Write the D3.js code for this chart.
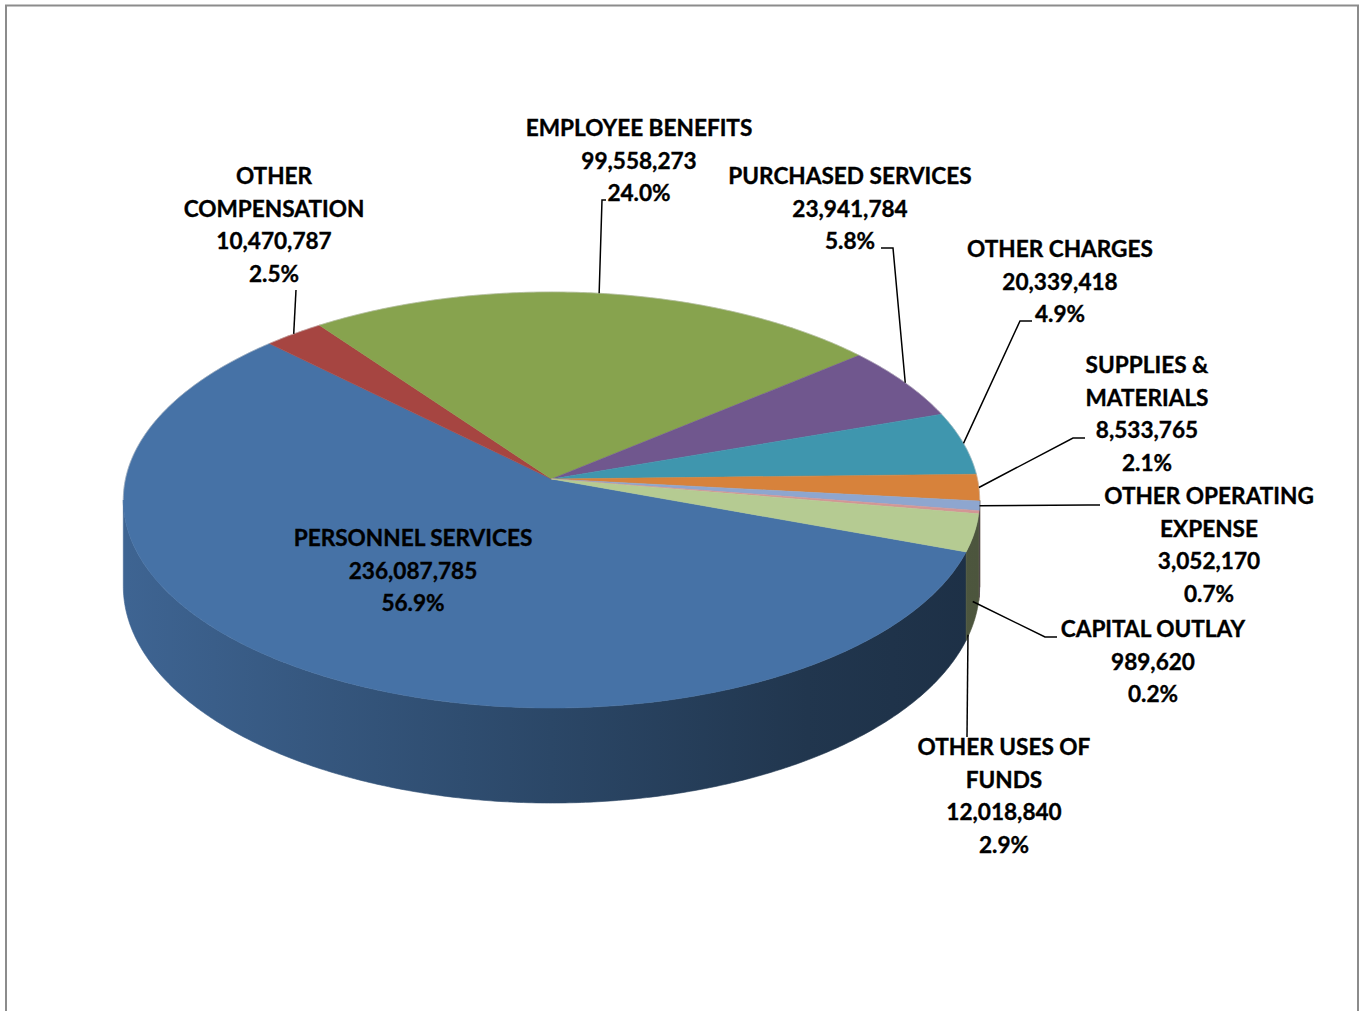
<!DOCTYPE html>
<html>
<head>
<meta charset="utf-8">
<script src="https://cdn.jsdelivr.net/npm/d3@7"></script>
<style>
  html, body { margin: 0; padding: 0; background: #ffffff; }
  svg { display: block; }
  text { font-family: Lato, "Open Sans", sans-serif; font-weight: 700; fill: #000; stroke: #000; stroke-width: 0.35px; }
</style>
</head>
<body>
<svg id="chart" width="1362" height="1011"></svg>
<script>
// Expenditure categories, in pie order (clockwise from the first slice)
const categories = [
  "PERSONNEL SERVICES",
  "OTHER COMPENSATION",
  "EMPLOYEE BENEFITS",
  "PURCHASED SERVICES",
  "OTHER CHARGES",
  "SUPPLIES & MATERIALS",
  "OTHER OPERATING EXPENSE",
  "CAPITAL OUTLAY",
  "OTHER USES OF FUNDS"
];

// Amounts per category
const amounts = [
  236087785,
  10470787,
  99558273,
  23941784,
  20339418,
  8533765,
  3052170,
  989620,
  12018840
];

// Label text lines (category name broken into lines)
const labelLines = [
  ["PERSONNEL SERVICES"],
  ["OTHER", "COMPENSATION"],
  ["EMPLOYEE BENEFITS"],
  ["PURCHASED SERVICES"],
  ["OTHER CHARGES"],
  ["SUPPLIES &", "MATERIALS"],
  ["OTHER OPERATING", "EXPENSE"],
  ["CAPITAL OUTLAY"],
  ["OTHER USES OF", "FUNDS"]
];

// Slice fill colours (top face)
const colors = [
  "#4672a6", "#a64541", "#87a34e", "#70578e", "#3f96ae",
  "#d7823b", "#8ea6cf", "#d39695", "#b5cb92"
];

// ---- layout ----
const cx = 551.5, cy = 479;     // projected centre of the disk
const sx = 426;                 // horizontal radius scale
const sz = 205.9;               // depth radius scale (tilt)
const persp = 0.101;            // perspective strength
const thick = 85.4;             // wall thickness
const firstAngle = 110;         // angle of first slice, degrees

// Label blocks: centre x, centre y of first line, leader path (anchor on pie
// given as angle in degrees and drop down the wall as a fraction, then elbows)
const lineGap = 32.6;
const labelLayout = [
  { x: 413,  y: 538, leader: null },
  { x: 274,  y: 176, leader: { a: null, drop: 0, pts: [[296, 290]] } },
  { x: 639,  y: 128, leader: { a: null, drop: 0, pts: [[602, 200], [606, 200]] } },
  { x: 850,  y: 176, leader: { a: null, drop: 0, pts: [[893, 248], [881, 248]] } },
  { x: 1060, y: 249, leader: { a: null, drop: 0, pts: [[1020, 321], [1032, 321]] } },
  { x: 1147, y: 365, leader: { a: null, drop: 0, pts: [[1073, 438], [1085, 438]] } },
  { x: 1209, y: 496, leader: { a: null, drop: 0, pts: [[1088, 505], [1100, 505]] } },
  { x: 1153, y: 629, leader: { a: 106, drop: 0.73, pts: [[1045, 637], [1057, 637]] } },
  { x: 1004, y: 747, leader: { a: 109, drop: 0.98, pts: [[967, 737]] } }
];

const svg = d3.select("#chart");
const defs = svg.append("defs");

// frame
svg.append("rect")
  .attr("x", 6).attr("y", 5.5)
  .attr("width", 1352).attr("height", 1100)
  .attr("fill", "#ffffff")
  .attr("stroke", "#8c8c8c")
  .attr("stroke-width", 2);

// project a point on the disk rim (angle clockwise from 12 o'clock, radius r)
// lowered by `drop` (0 = top face, 1 = bottom of the wall)
function proj(angDeg, r = 1, drop = 0) {
  const a = angDeg * Math.PI / 180;
  const x = r * Math.sin(a);
  const z = -r * Math.cos(a);       // + toward viewer
  const w = 1 - persp * z;
  return [cx + sx * x / w, cy + (sz * z + thick * drop) / w];
}

const total = d3.sum(amounts);
const pie = d3.pie()
  .sort(null)
  .value(d => d)
  .startAngle(firstAngle * Math.PI / 180)
  .endAngle((firstAngle + 360) * Math.PI / 180);
const arcs = pie(amounts);
const deg = r => r * 180 / Math.PI;
const line = d3.line();

// wall shading gradient per slice: lighter on the left, darker toward the right
const shade = (base, f) => {
  const c = d3.rgb(base);
  return d3.rgb(c.r * f, c.g * f, c.b * f).formatHex();
};
colors.forEach((c, i) => {
  const g = defs.append("linearGradient")
    .attr("id", "wall" + i)
    .attr("gradientUnits", "userSpaceOnUse")
    .attr("x1", cx - sx).attr("y1", 0)
    .attr("x2", cx + sx).attr("y2", 0);
  g.append("stop").attr("offset", 0).attr("stop-color", shade(c, 0.88));
  g.append("stop").attr("offset", 0.5).attr("stop-color", shade(c, 0.62));
  g.append("stop").attr("offset", 0.8).attr("stop-color", shade(c, 0.47));
  g.append("stop").attr("offset", 1).attr("stop-color", shade(c, 0.42));
});

// visible part of the rim: from the right silhouette to the left silhouette
const visFrom = 90 + Math.asin(persp) * 180 / Math.PI;
const visTo = 270 - Math.asin(persp) * 180 / Math.PI;

const walls = [];
arcs.forEach((d, i) => {
  let a0 = deg(d.startAngle), a1 = deg(d.endAngle);
  // bring into 0..360 window for the visibility test
  const shift = a0 >= 360 ? -360 : 0;
  a0 += shift; a1 += shift;
  const s = Math.max(a0, visFrom), e = Math.min(a1, visTo);
  if (e > s) walls.push({ i, s, e });
});

function wallPath(w) {
  const n = Math.max(2, Math.ceil((w.e - w.s) / 0.5));
  const top = [], bot = [];
  for (let k = 0; k <= n; k++) {
    const a = w.s + (w.e - w.s) * k / n;
    top.push(proj(a, 1, 0));
    bot.push(proj(a, 1, 1));
  }
  return line(top.concat(bot.reverse())) + "Z";
}

svg.append("g")
  .selectAll("path")
  .data(walls)
  .join("path")
  .attr("d", wallPath)
  .attr("fill", w => `url(#wall${w.i})`)
  .attr("stroke", w => `url(#wall${w.i})`)
  .attr("stroke-width", 0.6)
  .attr("stroke-linejoin", "round");

// ---- top faces ----
function topPath(d) {
  const a0 = deg(d.startAngle), a1 = deg(d.endAngle);
  const n = Math.max(2, Math.ceil((a1 - a0) / 0.5));
  const pts = [[cx, cy]];
  for (let k = 0; k <= n; k++) pts.push(proj(a0 + (a1 - a0) * k / n));
  return line(pts) + "Z";
}
svg.append("g")
  .selectAll("path")
  .data(arcs)
  .join("path")
  .attr("d", topPath)
  .attr("fill", (d, i) => colors[i])
  .attr("stroke", (d, i) => colors[i])
  .attr("stroke-width", 0.5)
  .attr("stroke-linejoin", "round");

// faint rim edge along the back of the top face
{
  const pts = [];
  for (let a = visTo; a <= visFrom + 360; a += 0.5) pts.push(proj(a));
  svg.append("path")
    .attr("d", line(pts))
    .attr("fill", "none")
    .attr("stroke", "#c8c8c8")
    .attr("stroke-width", 0.8)
    .attr("opacity", 0.6);
}

// ---- leader lines ----
const fmtNum = d3.format(",");
const fmtPct = v => (v * 100).toFixed(1) + "%";

const leaderG = svg.append("g")
  .attr("fill", "none")
  .attr("stroke", "#000")
  .attr("stroke-width", 1.5);
arcs.forEach((d, i) => {
  const L = labelLayout[i].leader;
  if (!L) return;
  const mid = deg((d.startAngle + d.endAngle) / 2);
  const anchor = proj(L.a == null ? mid : L.a, 1, L.drop);
  leaderG.append("path").attr("d", line([anchor, ...L.pts]));
});

// ---- labels ----
const labelG = svg.append("g").attr("text-anchor", "middle").attr("font-size", 22.6);
arcs.forEach((d, i) => {
  const lay = labelLayout[i];
  const lines = labelLines[i].concat([fmtNum(amounts[i]), fmtPct(amounts[i] / total)]);
  const t = labelG.append("text");
  lines.forEach((s, k) => {
    t.append("tspan")
      .attr("x", lay.x)
      .attr("y", lay.y + k * lineGap)
      .attr("dy", "0.36em")
      .text(s);
  });
});
</script>
</body>
</html>
